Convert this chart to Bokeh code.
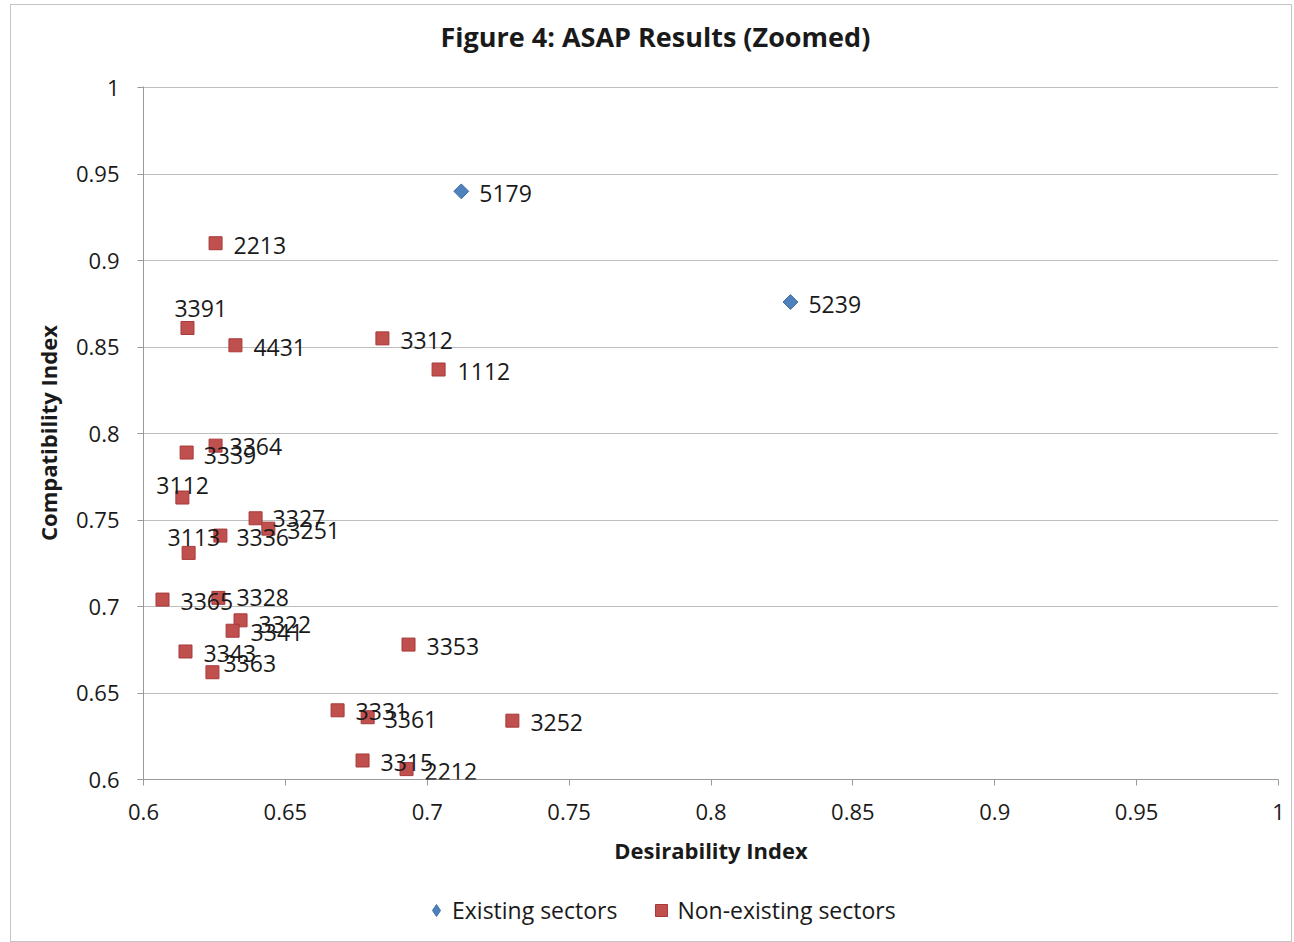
from bokeh.plotting import figure
from bokeh.layouts import column
from bokeh.models import (ColumnDataSource, LabelSet, Legend, LegendItem,
                          FixedTicker, NumeralTickFormatter, Range1d, Title)
from bokeh.core.properties import value
from bokeh.embed import file_html
from bokeh.resources import INLINE
import math

# ---- data ----
existing_codes = ["5179", "5239"]
existing_x = [0.712, 0.828]
existing_y = [0.940, 0.876]

non_codes = ["2213", "3391", "4431", "3312", "1112", "3364", "3339", "3112",
             "3327", "3251", "3336", "3113", "3365", "3328", "3322", "3341",
             "3343", "3363", "3353", "3331", "3361", "3252", "3315", "2212"]
non_x = [0.6254, 0.6155, 0.6324, 0.6842, 0.704, 0.6254, 0.6152, 0.6137,
         0.6395, 0.644, 0.6271, 0.6159, 0.6067, 0.6264, 0.6342, 0.6314,
         0.6148, 0.6243, 0.6934, 0.6684, 0.679, 0.730, 0.6772, 0.6927]
non_y = [0.910, 0.861, 0.851, 0.855, 0.837, 0.793, 0.789, 0.763,
         0.751, 0.745, 0.741, 0.731, 0.704, 0.705, 0.692, 0.686,
         0.674, 0.662, 0.678, 0.640, 0.636, 0.634, 0.611, 0.606]

x_ticks = [0.6, 0.65, 0.7, 0.75, 0.8, 0.85, 0.9, 0.95, 1]
y_ticks = [0.6, 0.65, 0.7, 0.75, 0.8, 0.85, 0.9, 0.95, 1]

series_names = ["Existing sectors", "Non-existing sectors"]

# label placement offsets (screen px)
existing_dx = [18, 18]
existing_dy = [-2, -2]
non_dx = [18, -13, 18, 18, 19, 14, 17, -26,
          17, 19, 16, -21, 18, 18, 18, 18,
          18, 11, 18, 18, 17, 18, 18, 18]
non_dy = [-2, 19, -2, -2, -2, -1, -3, 12,
          0, -2, -2, 15, -2, 0, -4, -2,
          -2, 9, -2, -1, -2, -2, -2, -2]

FONT = "Open Sans"
TXT = "#1a1a1a"
RED_FILL, RED_LINE = "#C0504D", "#A8393A"
BLUE_FILL, BLUE_LINE = "#4F81BD", "#3E6DA6"
DIAMOND_ANGLE = math.pi / 4

p = figure(width=1280, height=874, output_backend="svg", toolbar_location=None,
           x_range=Range1d(0.6, 1.0), y_range=Range1d(0.6, 1.0006),
           min_border_left=132, min_border_right=13,
           min_border_top=81, min_border_bottom=100)

p.title.text = "Figure 4:  ASAP Results (Zoomed)"
p.title.align = "left"
p.title.offset = 297
p.title.text_font = FONT
p.title.text_font_size = "27px"
p.title.text_font_style = "bold"
p.title.text_color = TXT
# spacer between title and plot area
p.add_layout(Title(text=" ", text_font_size="13px"), "above")

p.outline_line_color = None
p.xgrid.grid_line_color = None
p.ygrid.grid_line_color = "#BDBDBD"
p.ygrid.grid_line_width = 1

for ax in (p.xaxis[0], p.yaxis[0]):
    ax.axis_line_color = "#9A9A9A"
    ax.major_tick_line_color = "#9A9A9A"
    ax.major_tick_out = 6
    ax.major_tick_in = 0
    ax.minor_tick_line_color = None
    ax.major_label_text_font = FONT
    ax.major_label_text_font_size = "22px"
    ax.major_label_text_color = TXT
    ax.axis_label_text_font = FONT
    ax.axis_label_text_font_size = "22px"
    ax.axis_label_text_font_style = "bold"
    ax.axis_label_text_color = TXT
    ax.formatter = NumeralTickFormatter(format="0.[00]")

p.xaxis[0].ticker = FixedTicker(ticks=x_ticks)
p.yaxis[0].ticker = FixedTicker(ticks=y_ticks)
p.xaxis[0].axis_label = "Desirability Index"
p.yaxis[0].axis_label = "Compatibility Index"
p.xaxis[0].major_label_standoff = 18
p.xaxis[0].axis_label_standoff = 12
p.yaxis[0].major_label_standoff = 18
p.yaxis[0].axis_label_standoff = 10

src_e = ColumnDataSource(dict(x=existing_x, y=existing_y, code=existing_codes,
                              dx=existing_dx, dy=existing_dy))
src_n = ColumnDataSource(dict(x=non_x, y=non_y, code=non_codes,
                              dx=non_dx, dy=non_dy))

p.scatter("x", "y", source=src_n, marker="square", size=13,
          fill_color=RED_FILL, line_color=RED_LINE, line_width=1)
p.scatter("x", "y", source=src_e, marker="square", size=10.5,
          angle=DIAMOND_ANGLE,
          fill_color=BLUE_FILL, line_color=BLUE_LINE, line_width=1)

for src in (src_n, src_e):
    p.add_layout(LabelSet(x="x", y="y", text="code", source=src,
                          x_offset="dx", y_offset="dy",
                          text_font=value(FONT), text_font_size="23px",
                          text_color=TXT, text_baseline="middle"))

# ---- legend strip below the chart (its data lie outside its view) ----
lg = figure(width=1280, height=62, output_backend="svg", toolbar_location=None,
            x_range=Range1d(10, 11), y_range=Range1d(10, 11),
            min_border=0, outline_line_color=None)
lg.axis.visible = False
lg.grid.visible = False
le = lg.scatter(existing_x, existing_y, marker="diamond", size=12,
                fill_color=BLUE_FILL, line_color=BLUE_LINE)
ln = lg.scatter(non_x, non_y, marker="square", size=12,
                fill_color=RED_FILL, line_color=RED_LINE)
legend = Legend(items=[LegendItem(label=series_names[0], renderers=[le]),
                       LegendItem(label=series_names[1], renderers=[ln])],
                orientation="horizontal", location=(278, 15),
                label_text_font=FONT, label_text_font_size="23px",
                label_text_color=TXT,
                border_line_color=None, background_fill_alpha=0,
                glyph_width=30, glyph_height=30, label_standoff=1,
                spacing=29, margin=0, padding=4)
lg.add_layout(legend, "center")

layout = column(p, lg, styles={"border": "1px solid #C4C4C4",
                               "margin-left": "10px", "margin-top": "4px"})

open("out.html", "w").write(file_html(layout, INLINE))
